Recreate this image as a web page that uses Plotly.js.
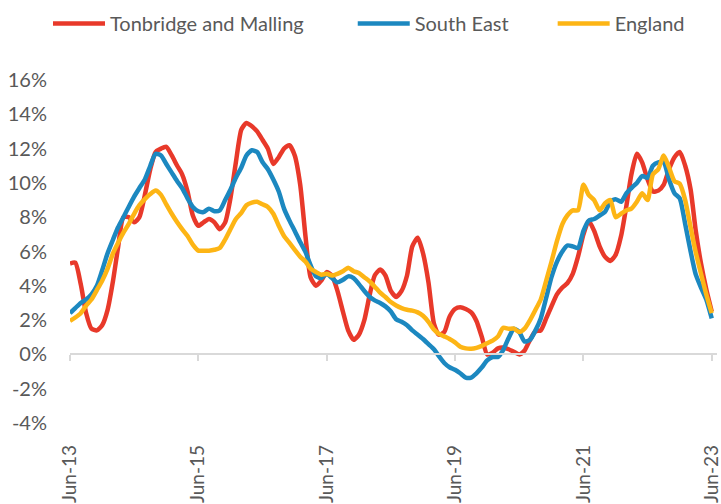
<!DOCTYPE html>
<html>
<head>
<meta charset="utf-8">
<script src="https://cdn.plot.ly/plotly-3.0.1.min.js"></script>
<style>html,body{margin:0;padding:0;background:#fff;}#chart{width:721px;height:504px;}</style>
</head>
<body>
<div id="chart"></div>
<script>
// Monthly categories Jun-13 .. Jun-23
const startYear = 2013, startMonth = 6, nMonths = 121;
const months = [];
for (let k = 0; k < nMonths; k++) {
  const m0 = startMonth - 1 + k;
  const y = startYear + Math.floor(m0 / 12);
  const m = (m0 % 12) + 1;
  months.push(y + '-' + String(m).padStart(2, '0') + '-01');
}

const seriesNames = ['Tonbridge and Malling', 'South East', 'England'];

const tonbridge = [
  5.3, 5.35, 4.1, 2.4, 1.5, 1.4, 1.7, 2.6, 4.3, 6.2,
  8.0, 8.0, 7.7, 8.0, 9.3, 10.8, 11.8, 12.0, 12.1, 11.6,
  11.0, 10.5, 9.5, 8.1, 7.5, 7.7, 7.9, 7.7, 7.3, 7.7,
  9.1, 11.2, 13.1, 13.5, 13.3, 13.0, 12.5, 12.0, 11.1, 11.5,
  12.0, 12.2, 11.6, 9.9, 6.8, 4.5, 4.0, 4.3, 4.8, 4.6,
  3.7, 2.5, 1.4, 0.85, 1.15, 2.0, 3.5, 4.6, 4.95, 4.6,
  3.7, 3.35, 3.7, 4.6, 6.3, 6.8, 5.9, 4.2, 1.8, 1.15,
  1.3, 2.2, 2.65, 2.75, 2.65, 2.45, 1.95, 1.0, 0.0, 0.1,
  0.35, 0.4, 0.3, 0.15, 0.0, 0.23, 0.85, 1.35, 1.4, 2.1,
  2.8, 3.5, 3.9, 4.15, 4.7, 5.7, 7.0, 7.8, 7.2, 6.3,
  5.7, 5.45, 5.8, 6.9, 8.7, 10.5, 11.7, 11.2, 10.2, 9.5,
  9.55, 9.9, 10.8, 11.5, 11.8, 11.0, 9.6, 7.3, 5.3, 3.8,
  2.5
];

const southEast = [
  2.4, 2.7, 3.0, 3.2, 3.5, 4.0, 4.9, 5.9, 6.7, 7.4,
  8.0, 8.6, 9.2, 9.7, 10.2, 11.0, 11.7, 11.6, 11.1, 10.6,
  10.1, 9.7, 9.1, 8.6, 8.35, 8.3, 8.5, 8.35, 8.4, 9.0,
  9.6, 10.3, 10.9, 11.6, 11.9, 11.8, 11.2, 10.8, 10.2, 9.5,
  8.5, 7.8, 7.2, 6.55, 5.95, 5.2, 4.55, 4.45, 4.7, 4.45,
  4.2, 4.35, 4.55, 4.45, 4.1, 3.7, 3.35, 3.15, 3.0, 2.8,
  2.5, 2.05, 1.9, 1.7, 1.4, 1.15, 0.9, 0.6, 0.3, -0.1,
  -0.5, -0.75, -0.9, -1.1, -1.35, -1.35, -1.1, -0.75, -0.35, -0.15,
  -0.15, 0.25, 0.95, 1.5, 1.3, 0.75, 0.85, 1.4, 2.1, 3.3,
  4.5, 5.4, 6.0, 6.35, 6.3, 6.2, 7.2, 7.8, 7.9, 8.1,
  8.3, 8.9, 9.05, 8.9, 9.4, 9.7, 10.0, 10.4, 10.3, 11.0,
  11.2, 11.2, 10.2, 9.4, 9.1, 7.6, 6.0, 4.7, 3.9, 3.2,
  2.1
];

const england = [
  1.95, 2.15, 2.4, 2.85, 3.2, 3.75, 4.3, 5.0, 5.9, 6.5,
  7.1, 7.6, 8.2, 8.7, 9.05, 9.35, 9.55, 9.3, 8.75, 8.2,
  7.7, 7.3, 6.9, 6.4, 6.05, 6.05, 6.05, 6.1, 6.2, 6.7,
  7.3, 7.9, 8.25, 8.7, 8.85, 8.9, 8.75, 8.6, 8.2, 7.5,
  6.9, 6.5, 6.1, 5.7, 5.4, 5.0, 4.8, 4.65, 4.7, 4.6,
  4.7, 4.85, 5.05, 4.85, 4.75, 4.5, 4.25, 3.95, 3.6, 3.35,
  3.05, 2.85, 2.7, 2.6, 2.55, 2.45, 2.25, 1.9, 1.45, 1.2,
  1.05, 0.9, 0.7, 0.45, 0.35, 0.33, 0.38, 0.5, 0.65, 0.8,
  1.05, 1.55, 1.5, 1.5, 1.3, 1.5, 2.0, 2.6, 3.2, 4.3,
  5.4, 6.6, 7.6, 8.1, 8.4, 8.4, 9.9, 9.3, 9.0, 8.4,
  8.8, 9.0, 8.0, 8.2, 8.4, 8.5, 8.9, 9.4, 9.0, 10.5,
  10.8, 11.6, 10.9, 10.1, 9.95, 9.0, 7.4, 6.0, 4.7, 3.5,
  2.4
];

const tickDates = ['2013-06-01', '2015-06-01', '2017-06-01', '2019-06-01', '2021-06-01', '2023-06-01'];
const tickLabels = ['Jun-13', 'Jun-15', 'Jun-17', 'Jun-19', 'Jun-21', 'Jun-23'];
const yTicks = [-4, -2, 0, 2, 4, 6, 8, 10, 12, 14, 16];
const yTickLabels = ['-4%', '-2%', '0%', '2%', '4%', '6%', '8%', '10%', '12%', '14%', '16%'];

const colors = ['#E8392A', '#1C88C0', '#FDB515'];
const allValues = [tonbridge, southEast, england];
const legendIds = ['legend', 'legend2', 'legend3'];

const traces = allValues.map((vals, i) => ({
  type: 'scatter',
  mode: 'lines',
  name: seriesNames[i],
  legend: legendIds[i],
  x: months,
  y: vals,
  line: {color: colors[i], width: 4.5, shape: 'spline', smoothing: 0.6},
  hoverinfo: 'skip'
}));

const fontFamily = 'Lato, "Open Sans", sans-serif';
const grey = '#595959';

function legendAt(xPaper) {
  return {
    orientation: 'h',
    x: xPaper, xanchor: 'left',
    y: 1.165, yanchor: 'middle',
    font: {family: fontFamily, size: 20, color: grey},
    itemwidth: 52,
    bgcolor: 'rgba(0,0,0,0)'
  };
}

const layout = {
  width: 721,
  height: 504,
  margin: {l: 70, r: 4, t: 77, b: 81},
  paper_bgcolor: '#ffffff',
  plot_bgcolor: '#ffffff',
  showlegend: true,
  legend: legendAt(-0.034),
  legend2: legendAt(0.437),
  legend3: legendAt(0.746),
  xaxis: {
    type: 'date',
    range: ['2013-06-01', '2023-07-01'],
    anchor: 'free',
    position: 0.2,
    showline: true,
    linecolor: '#d9d9d9',
    linewidth: 2,
    ticks: 'outside',
    ticklen: 6,
    tickwidth: 2,
    tickcolor: '#d9d9d9',
    tickvals: tickDates,
    ticktext: tickLabels,
    tickangle: -90,
    ticklabelstandoff: 76,
    ticklabeloverflow: 'allow',
    tickfont: {family: fontFamily, size: 19, color: grey},
    showgrid: false,
    zeroline: false,
    fixedrange: true
  },
  yaxis: {
    range: [-4, 16],
    tickvals: yTicks,
    ticktext: yTickLabels,
    ticks: '',
    ticklabelstandoff: 22,
    tickfont: {family: fontFamily, size: 20, color: grey},
    showgrid: false,
    zeroline: false,
    showline: false,
    fixedrange: true
  }
};

Plotly.newPlot('chart', traces, layout, {staticPlot: true, displayModeBar: false});
</script>
</body>
</html>
